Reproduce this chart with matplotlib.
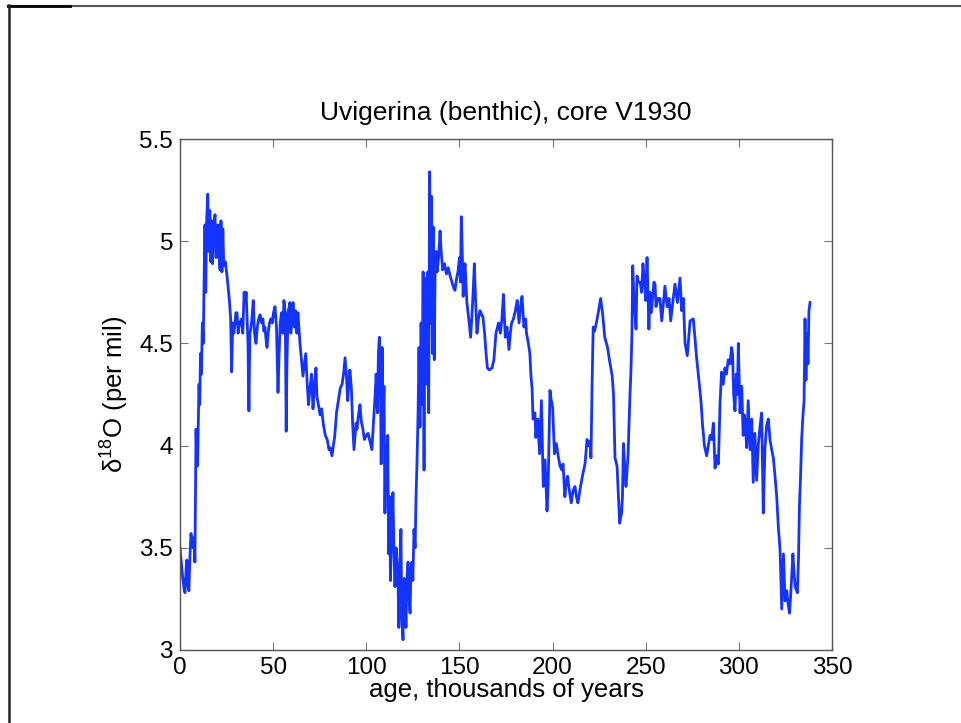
"""Uvigerina benthic d18O record, core V1930."""
import matplotlib
matplotlib.use("Agg")
import matplotlib.pyplot as plt
from matplotlib.lines import Line2D

plt.rcParams["font.family"] = ["Liberation Sans", "DejaVu Sans"]

# age (kyr) and d18O (per mil)
age = [
    0.0, 0.8, 1.5, 2.2, 2.7, 3.3, 3.7, 4.2, 4.8, 5.3, 5.9, 6.5, 7.0, 7.6, 8.0, 8.6, 9.0, 9.4, 9.8,
    10.2, 10.6, 11.0, 11.5, 12.0, 12.5, 13.0, 13.4, 13.8, 14.3, 14.9, 15.4, 16.0, 16.5, 17.0, 17.5,
    18.0, 18.8, 19.4, 20.0, 20.4, 21.0, 21.5, 22.0, 22.5, 23.0, 23.5, 24.3, 25.0, 25.8, 26.6, 27.2,
    27.7, 28.3, 28.9, 29.5, 30.0, 30.6, 31.2, 32.0, 33.0, 33.7, 34.4, 35.0, 35.5, 36.0, 36.5, 37.0,
    37.5, 38.0, 38.6, 39.3, 40.0, 40.8, 41.5, 42.2, 43.0, 43.8, 44.5, 45.0, 45.6, 46.2, 46.7, 47.3,
    48.0, 48.8, 49.5, 50.2, 51.0, 51.8, 52.6, 53.2, 53.8, 54.5, 55.2, 55.8, 56.5, 57.0, 57.4, 58.0,
    59.0, 59.5, 60.0, 60.7, 61.4, 62.0, 62.7, 63.3, 64.0, 64.4, 65.2, 66.0, 66.8, 67.5, 68.3, 69.0,
    69.8, 70.6, 71.4, 72.2, 73.0, 73.5, 74.3, 75.2, 76.0, 77.0, 78.0, 79.0, 80.0, 80.5, 81.6, 82.3,
    83.0, 84.0, 85.0, 86.0, 87.0, 87.8, 88.6, 89.3, 90.0, 90.6, 91.2, 92.0, 92.7, 93.4, 94.0, 94.5,
    95.0, 95.8, 96.6, 97.3, 98.0, 99.0, 100.0, 101.0, 102.0, 103.0, 103.8, 104.7, 105.3, 106.0,
    106.5, 107.0, 107.5, 108.0, 108.5, 109.0, 109.5, 110.0, 110.5, 111.0, 111.5, 112.0, 112.5,
    113.0, 113.6, 114.3, 114.8, 115.4, 116.0, 116.5, 117.0, 117.5, 118.0, 118.6, 119.0, 119.7,
    120.2, 120.8, 121.3, 121.8, 122.4, 123.0, 123.5, 124.0, 124.5, 125.0, 125.6, 126.2, 126.7,
    127.2, 127.8, 128.3, 128.8, 129.4, 130.0, 130.5, 131.0, 131.5, 132.0, 132.5, 133.0, 133.5,
    134.0, 134.5, 135.0, 135.5, 136.0, 136.5, 137.0, 137.5, 138.0, 138.8, 139.6, 140.2, 141.0,
    142.0, 143.0, 144.0, 145.0, 146.0, 147.0, 147.6, 148.5, 149.2, 150.0, 150.5, 151.0, 151.5,
    152.0, 152.5, 153.0, 154.0, 155.0, 156.0, 156.8, 157.5, 158.0, 158.7, 159.4, 160.2, 161.0,
    162.0, 162.6, 163.5, 164.3, 165.0, 166.0, 167.5, 168.5, 169.6, 171.0, 172.0, 172.8, 173.6,
    174.6, 175.5, 176.6, 177.3, 178.0, 179.0, 180.0, 181.0, 182.0, 182.8, 183.6, 184.6, 185.5,
    186.0, 187.0, 187.8, 188.4, 189.0, 189.5, 190.5, 191.0, 192.0, 193.0, 194.0, 195.0, 196.0,
    197.0, 197.6, 198.6, 199.3, 200.0, 201.0, 202.0, 203.0, 204.0, 205.0, 205.6, 206.6, 207.3,
    208.0, 209.0, 210.0, 211.0, 212.0, 212.8, 213.6, 215.0, 216.2, 217.4, 218.5, 219.3, 220.0,
    220.6, 221.2, 221.8, 222.5, 223.5, 224.5, 225.8, 226.8, 228.0, 229.5, 230.5, 232.0, 232.7,
    233.5, 234.6, 235.6, 236.0, 237.0, 237.5, 238.0, 238.7, 239.4, 240.5, 241.5, 242.0, 242.6,
    243.0, 243.8, 244.8, 245.3, 246.0, 247.0, 247.8, 248.5, 249.3, 250.0, 250.7, 251.7, 252.3,
    253.0, 254.4, 255.0, 255.5, 256.5, 257.6, 258.6, 259.5, 260.3, 261.5, 262.5, 263.4, 264.5,
    265.7, 267.0, 268.4, 269.3, 270.2, 271.1, 272.3, 273.8, 275.5, 276.4, 277.3, 278.2, 279.1,
    279.8, 280.5, 281.5, 282.7, 283.6, 284.5, 285.4, 286.3, 287.2, 288.0, 289.0, 289.9, 290.7,
    291.6, 292.5, 293.3, 294.3, 295.2, 296.1, 296.6, 297.2, 297.9, 298.6, 299.2, 299.7, 300.2,
    300.6, 301.5, 302.3, 303.0, 303.6, 304.2, 305.0, 306.0, 306.9, 307.7, 308.6, 309.5, 310.4,
    311.3, 312.2, 313.1, 314.0, 314.9, 315.8, 316.7, 317.6, 318.5, 319.4, 320.3, 321.2, 322.1,
    323.0, 323.9, 324.8, 325.7, 326.5, 327.2, 328.0, 329.0, 329.6, 330.2, 331.4, 332.0, 332.5,
    333.1, 333.7, 334.4, 335.0, 335.5, 336.0, 336.6, 337.1, 337.6, 338.2,
]
d18o = [
    3.50, 3.42, 3.35, 3.30, 3.28, 3.40, 3.44, 3.32, 3.29, 3.45, 3.57, 3.52, 3.50, 3.55, 3.43, 4.08,
    3.95, 3.90, 4.10, 4.30, 4.20, 4.45, 4.35, 4.60, 4.50, 4.85, 5.08, 4.75, 5.10, 5.23, 4.95, 5.15,
    4.90, 5.10, 4.89, 5.05, 5.13, 4.92, 5.00, 5.08, 4.92, 4.86, 5.10, 4.85, 5.06, 4.88, 4.90, 4.85,
    4.78, 4.70, 4.62, 4.36, 4.60, 4.55, 4.60, 4.65, 4.65, 4.55, 4.60, 4.62, 4.55, 4.75, 4.70, 4.75,
    4.63, 4.50, 4.17, 4.55, 4.57, 4.62, 4.71, 4.55, 4.50, 4.58, 4.62, 4.64, 4.60, 4.62, 4.56, 4.58,
    4.52, 4.48, 4.55, 4.60, 4.62, 4.60, 4.65, 4.68, 4.58, 4.26, 4.45, 4.60, 4.65, 4.55, 4.71, 4.65,
    4.07, 4.40, 4.65, 4.70, 4.55, 4.60, 4.70, 4.58, 4.66, 4.55, 4.65, 4.55, 4.50, 4.42, 4.34, 4.40,
    4.45, 4.30, 4.20, 4.28, 4.35, 4.18, 4.30, 4.38, 4.24, 4.20, 4.15, 4.18, 4.10, 4.05, 4.03, 3.98,
    3.99, 3.95, 4.00, 4.04, 4.16, 4.22, 4.28, 4.30, 4.35, 4.43, 4.35, 4.22, 4.30, 4.37, 4.28, 4.10,
    3.98, 4.05, 4.11, 4.08, 4.15, 4.20, 4.12, 4.09, 4.03, 4.05, 4.06, 4.02, 3.98, 4.10, 4.24, 4.35,
    4.16, 4.45, 4.53, 4.40, 3.91, 4.48, 4.09, 4.29, 3.67, 4.00, 3.93, 4.05, 3.47, 3.75, 3.34, 3.60,
    3.77, 3.50, 3.31, 3.50, 3.43, 3.35, 3.11, 3.40, 3.59, 3.18, 3.05, 3.35, 3.28, 3.11, 3.35, 3.43,
    3.25, 3.18, 3.40, 3.43, 3.34, 3.59, 3.50, 3.75, 3.91, 4.16, 4.48, 4.09, 4.60, 4.20, 4.85, 3.88,
    4.82, 4.30, 4.70, 4.85, 4.16, 5.34, 4.60, 5.22, 4.45, 5.07, 4.42, 4.92, 4.95, 4.85, 4.92, 5.05,
    4.95, 4.86, 4.89, 4.84, 4.87, 4.83, 4.80, 4.77, 4.76, 4.82, 4.85, 4.92, 4.80, 5.12, 4.95, 4.73,
    4.85, 4.89, 4.70, 4.62, 4.53, 4.65, 4.78, 4.89, 4.70, 4.55, 4.62, 4.66, 4.64, 4.63, 4.55, 4.45,
    4.38, 4.37, 4.38, 4.42, 4.55, 4.60, 4.55, 4.62, 4.74, 4.53, 4.58, 4.47, 4.55, 4.60, 4.62, 4.66,
    4.71, 4.60, 4.68, 4.73, 4.58, 4.62, 4.55, 4.50, 4.45, 4.34, 4.28, 4.13, 4.16, 4.04, 4.13, 3.96,
    4.22, 3.80, 3.93, 3.68, 3.80, 4.27, 4.22, 4.19, 3.96, 4.01, 3.95, 3.90, 3.88, 3.91, 3.75, 3.82,
    3.85, 3.78, 3.72, 3.78, 3.80, 3.75, 3.72, 3.80, 3.86, 3.91, 4.03, 4.00, 4.02, 3.94, 4.30, 4.58,
    4.56, 4.60, 4.65, 4.72, 4.65, 4.53, 4.48, 4.42, 4.34, 4.25, 3.94, 3.90, 3.70, 3.62, 3.67, 3.75,
    4.01, 3.90, 3.80, 3.95, 4.24, 4.35, 4.55, 4.88, 4.70, 4.57, 4.83, 4.80, 4.80, 4.75, 4.89, 4.80,
    4.71, 4.92, 4.57, 4.75, 4.65, 4.80, 4.79, 4.68, 4.72, 4.72, 4.61, 4.70, 4.78, 4.68, 4.72, 4.61,
    4.70, 4.79, 4.70, 4.82, 4.66, 4.72, 4.50, 4.44, 4.61, 4.62, 4.53, 4.43, 4.35, 4.27, 4.20, 4.10,
    4.00, 3.95, 4.00, 4.05, 4.03, 4.11, 3.89, 3.95, 3.91, 4.21, 4.36, 4.30, 4.38, 4.35, 4.42, 4.40,
    4.48, 4.45, 4.25, 4.17, 4.35, 4.25, 4.50, 4.30, 4.16, 4.29, 4.05, 4.15, 4.08, 3.99, 4.22, 3.98,
    4.13, 3.82, 4.06, 3.83, 4.00, 4.09, 4.16, 3.67, 3.99, 4.10, 4.13, 4.03, 3.98, 3.94, 3.85, 3.75,
    3.60, 3.49, 3.20, 3.47, 3.24, 3.29, 3.22, 3.18, 3.30, 3.47, 3.38, 3.31, 3.28, 3.45, 3.70, 3.85,
    4.03, 4.15, 4.22, 4.62, 4.32, 4.55, 4.40, 4.66, 4.70,
]

xticks = [0, 50, 100, 150, 200, 250, 300, 350]
yticks = [3, 3.5, 4, 4.5, 5, 5.5]
ytick_labels = ["3", "3.5", "4", "4.5", "5", "5.5"]

fig = plt.figure(figsize=(9.61, 7.23), dpi=100)
ax = fig.add_axes([0.1873, 0.1010, 0.6785, 0.7067])
ax.plot(age, d18o, color="#1433ff", linewidth=2.0)

ax.set_xlim(0, 350)
ax.set_ylim(3, 5.5)
ax.set_xticks(xticks)
ax.set_yticks(yticks)
ax.set_yticklabels(ytick_labels)
ax.tick_params(direction="in", length=6, width=0.8, color="#777777", labelsize=17.5,
               top=True, right=True, pad=5)
for s in ax.spines.values():
    s.set_color("#555555")
    s.set_linewidth(1.0)

ax.set_title("Uvigerina (benthic), core V1930", fontsize=19, pad=14)
ax.set_xlabel("age, thousands of years", fontsize=18.5, labelpad=-1)
ax.set_ylabel(r"$\mathregular{\delta^{18}O}$ (per mil)", fontsize=18.5, labelpad=6)

# page frame lines from the original screenshot
fig.add_artist(Line2D([8 / 961, 1.0], [1 - 5.5 / 723] * 2, color="#555555", linewidth=1.5))
fig.add_artist(Line2D([8 / 961, 70 / 961], [1 - 5.5 / 723] * 2, color="black", linewidth=2.0))
fig.add_artist(Line2D([8.5 / 961] * 2, [0, 1 - 5 / 723], color="#222222", linewidth=1.8))

fig.savefig("out.png", dpi=100)
